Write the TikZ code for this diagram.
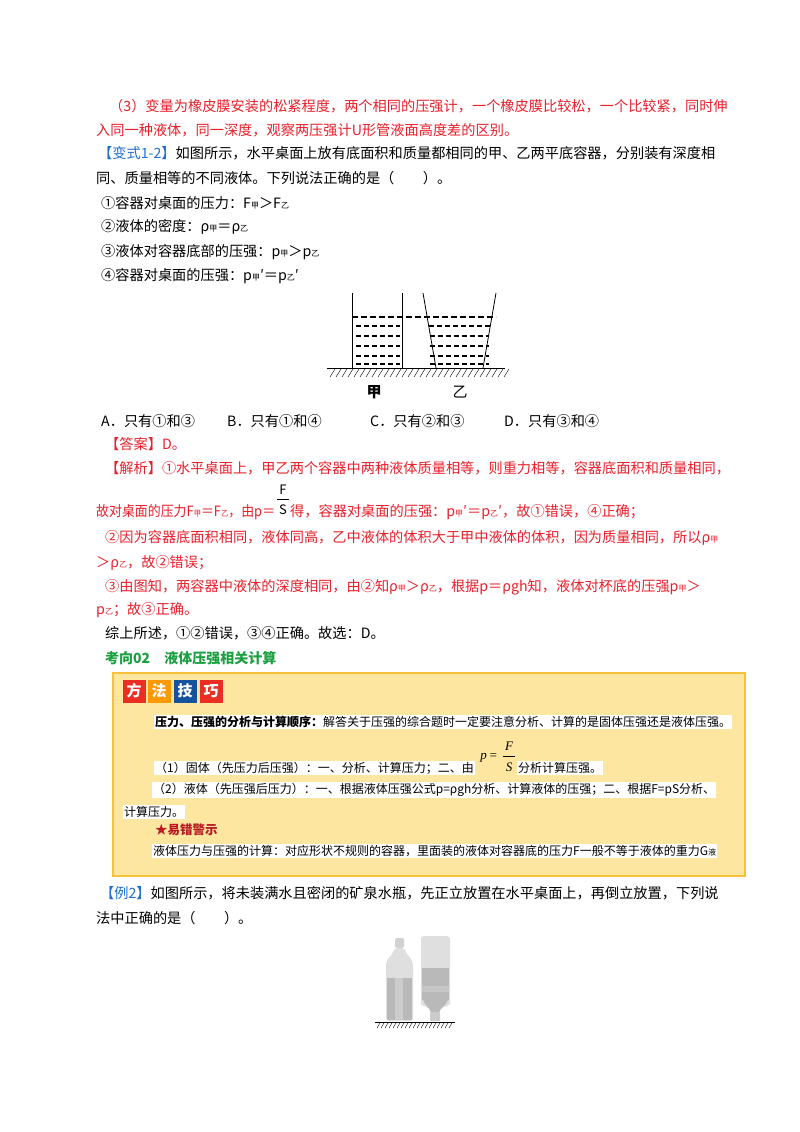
\documentclass[tikz,border=0pt]{standalone}
\usepackage{fontspec}
\setmainfont{Noto Sans CJK SC}
\newfontfamily\lser{Liberation Serif}
\definecolor{rd}{HTML}{E8202A}
\definecolor{bl}{HTML}{1E6FD0}
\definecolor{gr}{HTML}{1AA040}
\definecolor{boxfill}{HTML}{FCE6A0}
\definecolor{boxline}{HTML}{F5C23A}
\newcommand{\xs}[1]{{\fontsize{8}{8}\selectfont #1}}
\tikzset{
 tl/.style={anchor=west,inner sep=0pt,font=\fontsize{14.2}{14.2}\selectfont},
 bt/.style={anchor=west,inner sep=1pt,fill=white,font=\fontsize{12}{12}\selectfont},
 tile/.style={inner sep=0pt,minimum width=23pt,minimum height=23pt,text=white,font=\bfseries\fontsize{15}{15}\selectfont},
 fm/.style={inner sep=0pt,font=\lser\itshape\fontsize{13}{13}\selectfont},
 liq/.style={line width=1.3pt,dash pattern=on 5pt off 3pt}
}
\begin{document}
\begin{tikzpicture}[x=1pt,y=-1pt]
\useasboundingbox[fill=white] (0,0) rectangle (800,1132);
\node[tl,text=rd] (l1) at (109,106) {（3）变量为橡皮膜安装的松紧程度，两个相同的压强计，一个橡皮膜比较松，一个比较紧，同时伸};
\node[tl,text=rd] (l2) at (96,130) {入同一种液体，同一深度，观察两压强计U形管液面高度差的区别。};
\node[tl] (l3) at (98,153) {\textcolor{bl}{【变式1-2】}如图所示，水平桌面上放有底面积和质量都相同的甲、乙两平底容器，分别装有深度相};
\node[tl] (l4) at (96,178) {同、质量相等的不同液体。下列说法正确的是（　　）。};
\node[tl] (l5) at (101,203) {①容器对桌面的压力：F\xs{甲}＞F\xs{乙}};
\node[tl] (l6) at (101,227) {②液体的密度：ρ\xs{甲}＝ρ\xs{乙}};
\node[tl] (l7) at (101,252) {③液体对容器底部的压强：p\xs{甲}＞p\xs{乙}};
\node[tl] (l8) at (101,276) {④容器对桌面的压强：p\xs{甲}′＝p\xs{乙}′};
% figure
\draw[thick] (327,368) -- (505,368);
\foreach \i in {0,...,29} \draw (330+6*\i,377) -- (335+6*\i,369);
\draw[thick] (352,293) -- (352,368) (402,293) -- (402,368);
\draw[thick] (423,293) -- (436,368) (496,293) -- (483,368);
\draw[line width=2pt,dash pattern=on 6pt off 3pt] (352,317) -- (496,317);
\foreach \yy in {326,336,346,356,364} {
 \draw[liq] (356,\yy) -- (400,\yy);
 \draw[liq] (429+\yy/60-5,\yy) -- (490-\yy/60+5,\yy);
}
\node[font=\fontsize{15}{15}\selectfont\bfseries] (jia) at (374,392) {甲};
\node[font=\fontsize{15}{15}\selectfont] (yi) at (460,392) {乙};
\node[tl] (oa) at (101,421) {A．只有①和③};
\node[tl] (ob) at (227,421) {B．只有①和④};
\node[tl] (oc) at (370,421) {C．只有②和③};
\node[tl] (od) at (504,421) {D．只有③和④};
\node[tl,text=rd] (ans) at (105,444) {【答案】D。};
\node[tl,text=rd] (j1) at (105,468) {【解析】①水平桌面上，甲乙两个容器中两种液体质量相等，则重力相等，容器底面积和质量相同，};
\node[inner sep=0pt,font=\fontsize{13}{13}\selectfont] (fF) at (283,490) {F};
\draw (277,499) -- (289,499);
\node[inner sep=0pt,font=\fontsize{13}{13}\selectfont] (fS) at (283,510) {S};
\node[tl,text=rd] (j2a) at (96,512) {\scalebox{0.91}[1]{故对桌面的压力F\xs{甲}＝F\xs{乙}，由p＝}};
\node[tl,text=rd] (j2b) at (290,512) {得，容器对桌面的压强：p\xs{甲}′＝p\xs{乙}′，故①错误，④正确；};
\node[tl,text=rd] (j3) at (105,538) {②因为容器底面积相同，液体同高，乙中液体的体积大于甲中液体的体积，因为质量相同，所以ρ\xs{甲}};
\node[tl,text=rd] (j4) at (96,563) {＞ρ\xs{乙}，故②错误；};
\node[tl,text=rd] (j5) at (105,587) {③由图知，两容器中液体的深度相同，由②知ρ\xs{甲}＞ρ\xs{乙}，根据p＝ρgh知，液体对杯底的压强p\xs{甲}＞};
\node[tl,text=rd] (j6) at (96,610) {p\xs{乙}；故③正确。};
\node[tl] (j7) at (105,633) {综上所述，①②错误，③④正确。故选：D。};
\node[tl,text=gr,font=\bfseries\fontsize{14}{14}\selectfont] (kx) at (105,658) {考向02　液体压强相关计算};
% box
\draw[boxline,fill=boxfill,line width=1.2pt] (113,673) rectangle (745,876);
\node[tile,fill=rd!85!orange] (t1) at (134,691) {方};
\node[tile,fill=orange!80!yellow] (t2) at (159,691) {法};
\node[tile,fill=bl!75!black] (t3) at (185,691) {技};
\node[tile,fill=rd!85!orange] (t4) at (211,691) {巧};
\node[bt] (b1) at (154,722) {\textbf{压力、压强的分析与计算顺序：}解答关于压强的综合题时一定要注意分析、计算的是固体压强还是液体压强。};
\node[fm] (bp) at (489,758) {p\,=};
\node[fm] (bF) at (509,746) {F};
\draw (503,756) -- (515,756);
\node[fm] (bS) at (509,767) {S};
\node[bt] (b2) at (154,768) {（1）固体（先压力后压强）：一、分析、计算压力；二、由};
\node[bt] (b3) at (517,768) {分析计算压强。};
\node[bt] (b4) at (152,790) {（2）液体（先压强后压力）：一、根据液体压强公式p=ρgh分析、计算液体的压强；二、根据F=pS分析、};
\node[bt] (b5) at (123,812) {计算压力。};
\node[anchor=west,inner sep=0pt,text=rd!80!black,font=\bfseries\fontsize{12.5}{12.5}\selectfont] (b6) at (155,830) {★易错警示};
\node[bt] (b7) at (152,851) {液体压力与压强的计算：对应形状不规则的容器，里面装的液体对容器底的压力F一般不等于液体的重力G\xs{液}};
\node[tl] (e1) at (100,893) {\textcolor{bl}{【例2】}如图所示，将未装满水且密闭的矿泉水瓶，先正立放置在水平桌面上，再倒立放置，下列说};
\node[tl] (e2) at (96,918) {法中正确的是（　　）。};
% bottles
\draw[thick] (375,1022) -- (455,1022);
\foreach \i in {0,...,18} \draw (377+4*\i,1028) -- (380+4*\i,1023);
\fill[gray!35,rounded corners=2pt] (395,938) rectangle (404,948);
\fill[gray!25,rounded corners=3pt] (386,1021) -- (386,968) .. controls (386,958) and (393,955) .. (394,948) -- (405,948) .. controls (406,955) and (413,958) .. (413,968) -- (413,1021) -- cycle;
\fill[gray!55] (387,978) rectangle (412,1020);
\fill[gray!40] (395,978) rectangle (403,1020);
\fill[gray!25,rounded corners=4pt] (421,1000) -- (421,942) .. controls (421,937) and (424,936) .. (428,936) -- (443,936) .. controls (447,936) and (450,937) .. (450,942) -- (450,1000) .. controls (450,1006) and (441,1007) .. (440,1013) -- (430,1013) .. controls (429,1007) and (421,1006) .. (421,1000) -- cycle;
\fill[gray!55] (422,968) rectangle (449,1000);
\fill[gray!45] (422,986) rectangle (449,992);
\fill[gray!55] (423,1000) .. controls (425,1006) and (430,1007) .. (431,1013) -- (439,1013) .. controls (440,1007) and (446,1006) .. (448,1000) -- cycle;
\fill[gray!40,rounded corners=1pt] (430,1012) rectangle (440,1021);
\end{tikzpicture}
\end{document}
